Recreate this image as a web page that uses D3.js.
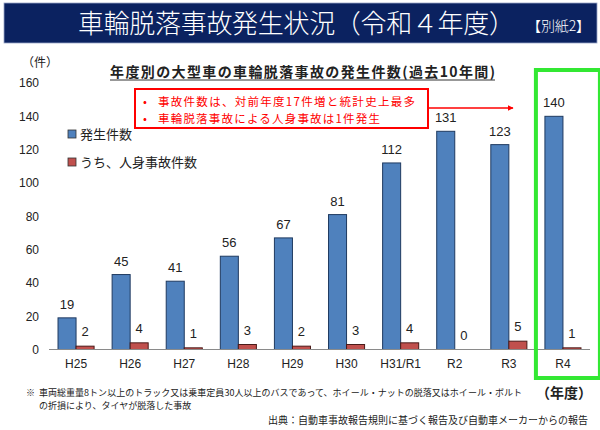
<!DOCTYPE html>
<html>
<head>
<meta charset="utf-8">
<script src="https://cdn.jsdelivr.net/npm/d3@7"></script>
<style>
  body { margin: 0; background: #fff; }
  svg { display: block; }
  .jp { font-family: "Noto Sans CJK JP", sans-serif; }
  .num { font-family: "Liberation Sans", Arial, sans-serif; }
</style>
</head>
<body>
<div id="chart"></div>
<script>
// data
const years = ["H25", "H26", "H27", "H28", "H29", "H30", "H31/R1", "R2", "R3", "R4"];
const totalCounts = [19, 45, 41, 56, 67, 81, 112, 131, 123, 140];
const injuryCounts = [2, 4, 1, 3, 2, 3, 4, 0, 5, 1];
const yTicks = [0, 20, 40, 60, 80, 100, 120, 140, 160];
const seriesNames = ["発生件数", "うち、人身事故件数"];
const notes = [
  "事故件数は、対前年度17件増と統計史上最多",
  "車輪脱落事故による人身事故は1件発生"
];
const footLines = [
  "車両総重量8トン以上のトラック又は乗車定員30人以上のバスであって、ホイール・ナットの脱落又はホイール・ボルト",
  "の折損により、タイヤが脱落した事故"
];

const W = 600, H = 430;
const blue = "#4f81bd", red = "#c0504d";

const svg = d3.select("#chart").append("svg")
  .attr("width", W)
  .attr("height", H);

// title banner
svg.append("rect")
  .attr("x", 4).attr("y", 3)
  .attr("width", 593).attr("height", 40)
  .attr("fill", "#0b2260")
  .attr("stroke", "#9aa6c8").attr("stroke-width", 0.8);

svg.append("text").attr("class", "jp")
  .attr("x", 78).attr("y", 33)
  .attr("fill", "#fff")
  .attr("font-size", 26)
  .attr("font-weight", 300)
  .attr("textLength", 437)
  .text("車輪脱落事故発生状況（令和４年度）");

svg.append("text").attr("class", "jp")
  .attr("x", 527).attr("y", 31)
  .attr("fill", "#fff")
  .attr("font-size", 14)
  .attr("font-weight", 300)
  .attr("textLength", 63)
  .text("【別紙2】");

// scales
const x = d3.scaleBand()
  .domain(years)
  .range([49, 590])
  .paddingInner(1 / 3)
  .paddingOuter(1 / 6);

const sub = d3.scaleBand()
  .domain([0, 1])
  .range([0, x.bandwidth()]);

const y = d3.scaleLinear()
  .domain([0, 160])
  .range([349.5, 83]);

// y axis
const yAxis = svg.append("g")
  .attr("transform", "translate(39,0)")
  .call(d3.axisLeft(y).tickValues(yTicks).tickSize(0).tickPadding(0));
yAxis.select(".domain").remove();
yAxis.selectAll("text")
  .attr("class", "num")
  .attr("font-size", 12)
  .attr("fill", "#222");

svg.append("text").attr("class", "jp")
  .attr("x", 22).attr("y", 67)
  .attr("font-size", 12)
  .attr("fill", "#222")
  .text("（件）");

// subtitle
svg.append("text").attr("class", "jp")
  .attr("x", 110).attr("y", 77)
  .attr("font-size", 14)
  .attr("font-weight", "bold")
  .attr("fill", "#222")
  .attr("textLength", 385)
  .text("年度別の大型車の車輪脱落事故の発生件数(過去10年間)");
svg.append("line")
  .attr("x1", 110).attr("x2", 495)
  .attr("y1", 80).attr("y2", 80)
  .attr("stroke", "#333").attr("stroke-width", 1);

// bars
const groups = svg.append("g").selectAll("g")
  .data(years)
  .join("g")
  .attr("transform", d => `translate(${x(d)},0)`);

groups.append("rect")
  .attr("x", sub(0))
  .attr("y", (d, i) => y(totalCounts[i]))
  .attr("width", sub.bandwidth())
  .attr("height", (d, i) => y(0) - y(totalCounts[i]))
  .attr("fill", blue)
  .attr("stroke", "#1f3a60").attr("stroke-width", 1);

groups.append("rect")
  .attr("x", sub(1))
  .attr("y", (d, i) => y(injuryCounts[i]))
  .attr("width", sub.bandwidth())
  .attr("height", (d, i) => y(0) - y(injuryCounts[i]))
  .attr("fill", red)
  .attr("stroke", "#4a1a18").attr("stroke-width", 1);

groups.append("text").attr("class", "num")
  .attr("x", sub(0) + sub.bandwidth() / 2)
  .attr("y", (d, i) => y(totalCounts[i]) - 9)
  .attr("text-anchor", "middle")
  .attr("font-size", 13)
  .attr("fill", "#222")
  .text((d, i) => totalCounts[i]);

groups.append("text").attr("class", "num")
  .attr("x", sub(1) + sub.bandwidth() / 2)
  .attr("y", (d, i) => y(injuryCounts[i]) - 10)
  .attr("text-anchor", "middle")
  .attr("font-size", 13)
  .attr("fill", "#222")
  .text((d, i) => injuryCounts[i]);

// x axis
const xAxis = svg.append("g")
  .attr("transform", `translate(0,${y(0)})`)
  .call(d3.axisBottom(x).tickSize(0).tickPadding(10));
xAxis.select(".domain")
  .attr("d", `M49,0H590`)
  .attr("stroke", "#8a8a8a").attr("stroke-width", 1.2);
xAxis.selectAll("text")
  .attr("class", "num")
  .attr("font-size", 12)
  .attr("fill", "#222");

// legend
const legend = svg.append("g").selectAll("g")
  .data(seriesNames)
  .join("g")
  .attr("transform", (d, i) => `translate(68,${134 + i * 28})`);
legend.append("rect")
  .attr("x", 0).attr("y", -4)
  .attr("width", 8).attr("height", 8)
  .attr("fill", (d, i) => i === 0 ? blue : red)
  .attr("stroke", "#333").attr("stroke-width", 0.8);
legend.append("text").attr("class", "jp")
  .attr("x", 12).attr("y", 5)
  .attr("font-size", 13)
  .attr("fill", "#222")
  .text(d => d);

// annotation box
svg.append("rect")
  .attr("x", 135).attr("y", 89)
  .attr("width", 293).attr("height", 39)
  .attr("fill", "#fff")
  .attr("stroke", "#ff0000").attr("stroke-width", 2);
const note = svg.append("g").selectAll("g")
  .data(notes)
  .join("g")
  .attr("transform", (d, i) => `translate(0,${106 + i * 17})`);
note.append("text").attr("class", "jp")
  .attr("x", 143).attr("y", 0)
  .attr("font-size", 11.5).attr("fill", "#ff0000")
  .text("•");
note.append("text").attr("class", "jp")
  .attr("x", 158).attr("y", 0)
  .attr("font-size", 11.5).attr("fill", "#ff0000")
  .attr("textLength", (d, i) => i === 0 ? 257 : 222)
  .text(d => d);

svg.append("defs").append("marker")
  .attr("id", "arr")
  .attr("viewBox", "0 0 10 10")
  .attr("refX", 9).attr("refY", 5)
  .attr("markerWidth", 4).attr("markerHeight", 4)
  .attr("orient", "auto")
  .append("path").attr("d", "M0,0L10,5L0,10z").attr("fill", "#ff0000");
svg.append("line")
  .attr("x1", 429).attr("y1", 108)
  .attr("x2", 513).attr("y2", 108)
  .attr("stroke", "#ff0000").attr("stroke-width", 1.5)
  .attr("marker-end", "url(#arr)");

// highlight R4
svg.append("rect")
  .attr("x", x("R4") - 9).attr("y", 70)
  .attr("width", 64).attr("height", 308)
  .attr("fill", "none")
  .attr("stroke", "#33e833").attr("stroke-width", 4);

// footnotes
svg.append("text").attr("class", "jp")
  .attr("x", 26).attr("y", 396)
  .attr("font-size", 9).attr("fill", "#222")
  .text("※");
svg.append("g").selectAll("text")
  .data(footLines)
  .join("text").attr("class", "jp")
  .attr("x", 39).attr("y", (d, i) => 396 + i * 13)
  .attr("font-size", 9).attr("fill", "#222")
  .attr("textLength", (d, i) => i === 0 ? 483 : null)
  .text(d => d);
svg.append("text").attr("class", "jp")
  .attr("x", 592).attr("y", 398)
  .attr("text-anchor", "end")
  .attr("font-size", 14).attr("font-weight", "bold").attr("fill", "#222")
  .text("（年度）");
svg.append("text").attr("class", "jp")
  .attr("x", 588).attr("y", 424)
  .attr("text-anchor", "end")
  .attr("font-size", 10).attr("fill", "#222")
  .text("出典：自動車事故報告規則に基づく報告及び自動車メーカーからの報告");
</script>
</body>
</html>
